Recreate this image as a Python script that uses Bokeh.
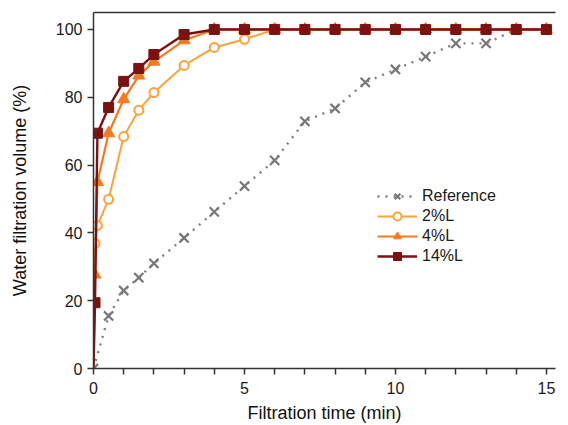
from bokeh.plotting import figure
from bokeh.models import LinearAxis, FixedTicker, Range1d
from bokeh.embed import file_html
from bokeh.resources import INLINE

# ---- data ----
time_ref = [0, 0.5, 1, 1.5, 2, 3, 4, 5, 6, 7, 8, 9, 10, 11, 12, 13, 14, 15]
reference = [0, 15.5, 23.0, 26.8, 31.0, 38.5, 46.2, 53.8, 61.4, 72.9, 76.7,
             84.4, 88.2, 92.0, 95.9, 95.9, 100, 100]

time_l = [0, 0.05, 0.13, 0.5, 1, 1.5, 2, 3, 4, 5, 6, 7, 8, 9, 10, 11, 12, 13, 14, 15]
l2 = [0, 36.9, 42.2, 49.9, 68.4, 76.2, 81.4, 89.4, 94.7, 97.1, 100,
      100, 100, 100, 100, 100, 100, 100, 100, 100]
l4 = [0, 27.7, 55.0, 69.4, 79.4, 86.4, 90.5, 96.8, 100, 100, 100,
      100, 100, 100, 100, 100, 100, 100, 100, 100]
l14 = [0, 19.4, 69.4, 77.0, 84.7, 88.5, 92.6, 98.5, 100, 100, 100,
       100, 100, 100, 100, 100, 100, 100, 100, 100]

x_major = [0, 5, 10, 15]
x_minor = [1, 2, 3, 4, 6, 7, 8, 9, 11, 12, 13, 14]
y_major = [0, 20, 40, 60, 80, 100]

FONT = "Liberation Sans"
AXC = "#333333"

p = figure(frame_width=462, frame_height=356, output_backend="svg",
           toolbar_location=None, x_range=Range1d(0, 15.3), y_range=Range1d(0, 105),
           min_border_left=93, min_border_right=13, min_border_top=12, min_border_bottom=57)
p.outline_line_color = None
p.grid.visible = False
p.background_fill_color = "white"
p.border_fill_color = "white"

# reference
p.line(time_ref, reference, color="#808080", line_width=2.4, line_dash="2 6",
       legend_label="Reference")
p.scatter(time_ref, reference, marker="x", size=13, line_color="#777777",
          line_width=2.2, legend_label="Reference")

# 2%L
c2 = "#FFA23A"
p.line(time_l, l2, color=c2, line_width=2, legend_label="2%L")
p.scatter(time_l[1:], l2[1:], marker="circle", size=9, line_color=c2,
          fill_color="white", line_width=2, legend_label="2%L")

# 4%L
c4 = "#F57A1E"
p.line(time_l, l4, color=c4, line_width=2.2, legend_label="4%L")
p.scatter(time_l[1:], l4[1:], marker="triangle", size=12, line_color=c4,
          fill_color=c4, line_width=1, legend_label="4%L")

# 14%L
c14 = "#7A1212"
p.line(time_l, l14, color=c14, line_width=2.4, legend_label="14%L")
p.scatter(time_l[1:], l14[1:], marker="square", size=10, line_color=c14,
          fill_color=c14, line_width=1, legend_label="14%L")

# axes
xa = p.xaxis[0]
xa.ticker = FixedTicker(ticks=x_major, minor_ticks=x_minor)
xa.axis_label = "Filtration time (min)"
ya = p.yaxis[0]
ya.ticker = FixedTicker(ticks=y_major)
ya.axis_label = "Water filtration volume (%)"
for ax in (xa, ya):
    ax.axis_line_color = AXC
    ax.axis_line_width = 1.5
    ax.major_tick_line_color = AXC
    ax.major_tick_line_width = 1.5
    ax.minor_tick_line_color = AXC
    ax.minor_tick_line_width = 1.5
    ax.major_tick_out = 6
    ax.major_tick_in = 0
    ax.minor_tick_out = 6
    ax.minor_tick_in = 0
    ax.major_label_text_font = FONT
    ax.major_label_text_font_size = "16px"
    ax.major_label_text_color = "#1a1a1a"
    ax.axis_label_text_font = FONT
    ax.axis_label_text_font_size = "18px"
    ax.axis_label_text_font_style = "normal"
    ax.axis_label_text_color = "#111111"
xa.major_label_standoff = 7
xa.axis_label_standoff = 6
ya.major_label_standoff = 5
ya.axis_label_standoff = 23

top = LinearAxis(ticker=FixedTicker(ticks=[0]), axis_line_color=AXC, axis_line_width=1.5,
                 major_tick_line_color=None, minor_tick_line_color=None,
                 major_tick_out=0, major_tick_in=0, minor_tick_out=0, minor_tick_in=0,
                 major_label_standoff=0, major_label_text_font_size="0px",
                 major_label_text_alpha=0)
p.add_layout(top, "above")

lg = p.legend[0]
lg.location = (284, 102)
lg.padding = 0
lg.margin = 0
lg.spacing = 0
lg.border_line_color = None
lg.background_fill_alpha = 0
lg.glyph_width = 40
lg.glyph_height = 20
lg.label_height = 20
lg.label_standoff = 5
lg.label_text_font = FONT
lg.label_text_font_size = "16px"
lg.label_text_color = "#1a1a1a"

open("out.html", "w").write(file_html(p, INLINE))
